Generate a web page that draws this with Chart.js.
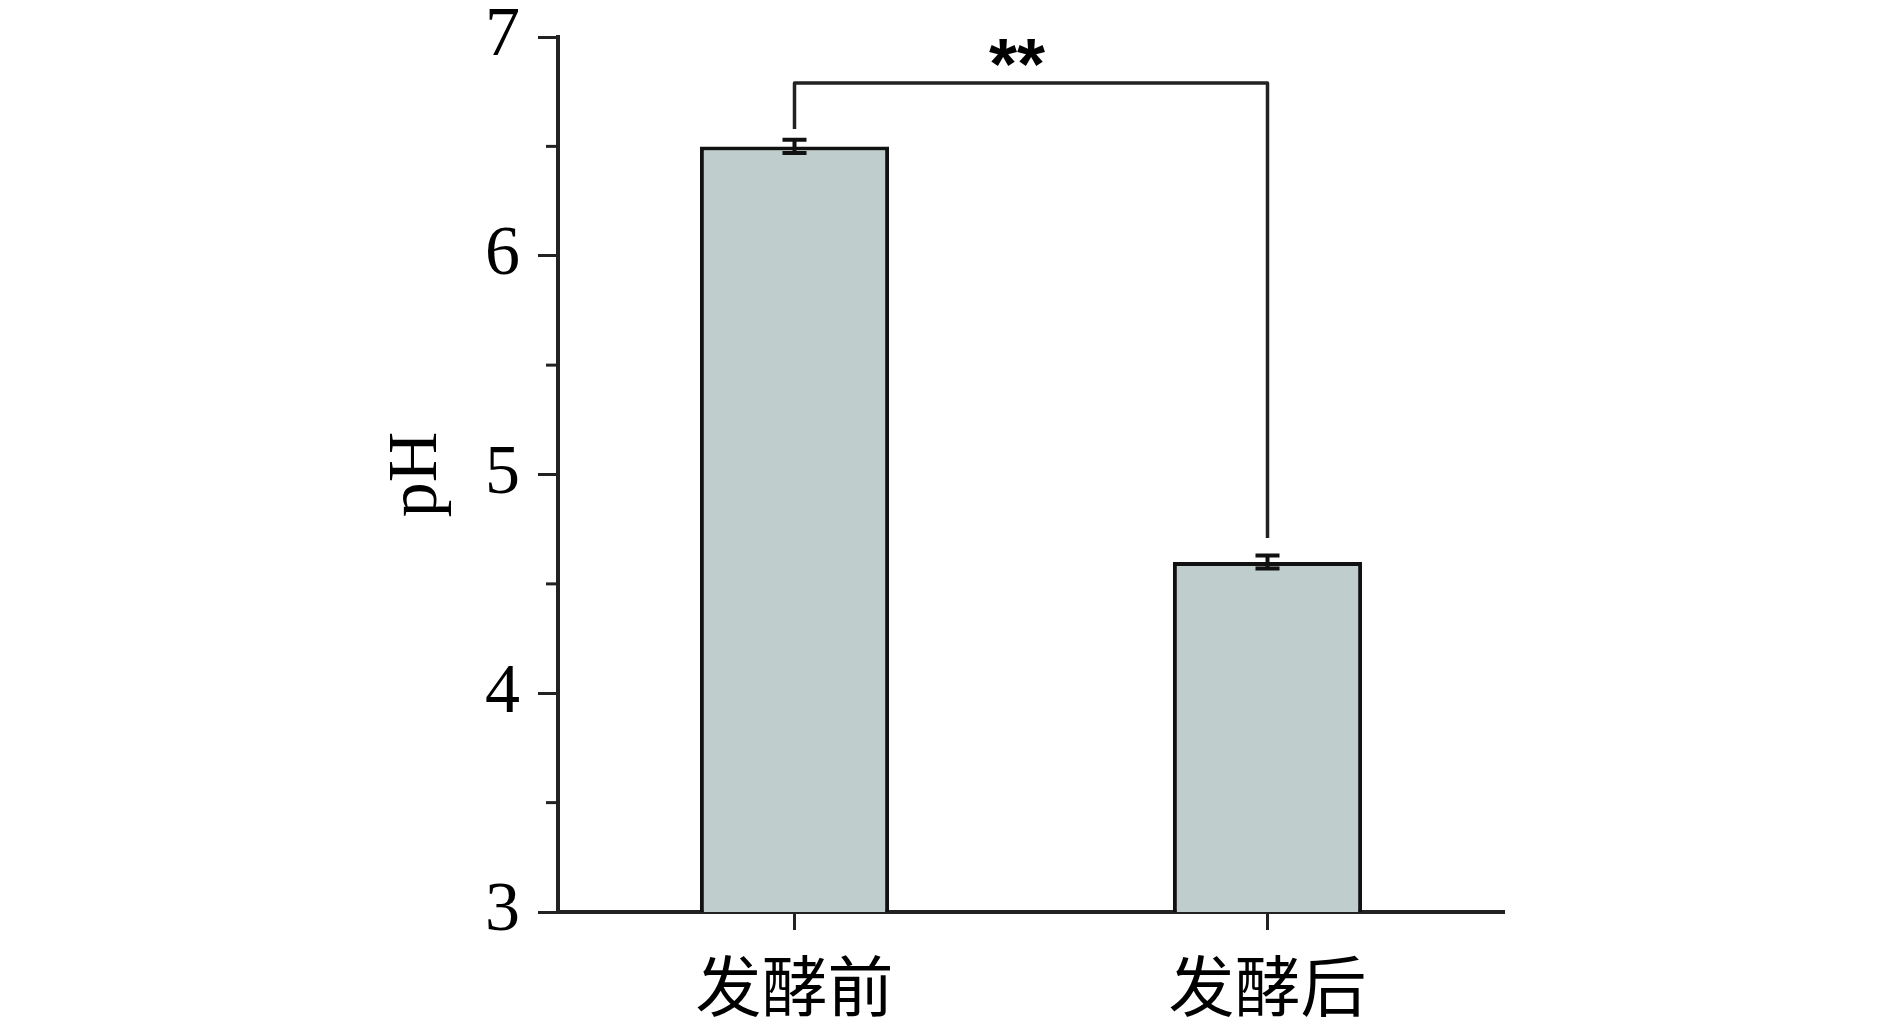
<!DOCTYPE html>
<html>
<head>
<meta charset="utf-8">
<script src="https://cdn.jsdelivr.net/npm/chart.js@4.4.1/dist/chart.umd.min.js"></script>
<style>
  html, body { margin: 0; padding: 0; background: #fff; }
  #wrap { width: 1890px; height: 1033px; position: relative; }
</style>
</head>
<body>
<div id="wrap"><canvas id="phChart"></canvas></div>
<script>
// data
const categories = ['发酵前', '发酵后'];
const phValues = [6.50, 4.60];
const phErrors = [0.03, 0.03];
const yTicks = [3, 4, 5, 6, 7];
const sigLabel = '**';

// error bars drawn through the y scale
const errorBars = {
    id: 'errorBars',
    afterDatasetsDraw(chart) {
        const { ctx, scales: { x, y } } = chart;
        ctx.save();
        ctx.strokeStyle = '#111';
        ctx.lineWidth = 4;
        phValues.forEach((v, i) => {
            const px = x.getPixelForValue(i);
            const top = y.getPixelForValue(v + phErrors[i]);
            const bot = y.getPixelForValue(v - phErrors[i]);
            ctx.beginPath();
            ctx.moveTo(px, top); ctx.lineTo(px, bot);
            ctx.moveTo(px - 12, top); ctx.lineTo(px + 12, top);
            ctx.moveTo(px - 12, bot); ctx.lineTo(px + 12, bot);
            ctx.stroke();
        });
        ctx.restore();
    }
};

// significance bracket between the two bars
const sigBracket = {
    id: 'sigBracket',
    afterDatasetsDraw(chart) {
        const { ctx, scales: { x, y } } = chart;
        const x1 = x.getPixelForValue(0);
        const x2 = x.getPixelForValue(1);
        const yTop = y.getPixelForValue(6.79);
        const yL = y.getPixelForValue(6.58);
        const yR = y.getPixelForValue(4.71);
        ctx.save();
        ctx.strokeStyle = '#222';
        ctx.lineWidth = 3.5;
        ctx.lineJoin = 'round';
        ctx.beginPath();
        ctx.moveTo(x1, yL);
        ctx.lineTo(x1, yTop);
        ctx.lineTo(x2, yTop);
        ctx.lineTo(x2, yR);
        ctx.stroke();
        ctx.fillStyle = '#000';
        ctx.font = 'bold 72px "Liberation Sans"';
        ctx.textAlign = 'center';
        ctx.textBaseline = 'middle';
        ctx.fillText(sigLabel, (x1 + x2) / 2 - 14, yTop - 14);
        ctx.restore();
    }
};

// short minor ticks on the y axis at the half values
const minorTicks = {
    id: 'minorTicks',
    afterDraw(chart) {
        const { ctx, scales: { y } } = chart;
        ctx.save();
        ctx.strokeStyle = '#222';
        ctx.lineWidth = 3;
        for (let i = 0; i < yTicks.length - 1; i++) {
            const py = y.getPixelForValue(yTicks[i] + 0.5);
            ctx.beginPath();
            ctx.moveTo(y.right - 12, py);
            ctx.lineTo(y.right, py);
            ctx.stroke();
        }
        ctx.restore();
    }
};

const ctx = document.getElementById('phChart').getContext('2d');
const phChart = new Chart(ctx, {
    type: 'bar',
    data: {
        labels: categories,
        datasets: [{
            label: 'pH',
            data: phValues,
            backgroundColor: '#bfcdcd',
            borderColor: '#111',
            borderWidth: 4,
            categoryPercentage: 1,
            barPercentage: 0.4
        }]
    },
    options: {
        responsive: true,
        maintainAspectRatio: false,
        animation: false,
        layout: { padding: { left: 0, right: 386, top: 37, bottom: 0 } },
        plugins: {
            legend: { display: false },
            tooltip: { enabled: false }
        },
        scales: {
            x: {
                grid: {
                    display: true,
                    offset: false,
                    drawOnChartArea: false,
                    tickLength: 18,
                    tickWidth: 3,
                    tickColor: '#222'
                },
                border: { color: '#222', width: 4 },
                ticks: {
                    color: '#000',
                    padding: 16,
                    font: { family: '"Noto Sans CJK SC"', size: 66 }
                },
                afterFit: (scale) => {
                    scale.height = 121;
                    scale.paddingLeft = 0;
                    scale.paddingRight = 0;
                }
            },
            y: {
                min: 3,
                max: 7,
                afterBuildTicks: (scale) => { scale.ticks = yTicks.map(v => ({ value: v })); },
                grid: {
                    display: true,
                    drawOnChartArea: false,
                    tickLength: 20,
                    tickWidth: 3,
                    tickColor: '#222'
                },
                border: { color: '#222', width: 4 },
                ticks: {
                    color: '#000',
                    padding: 18,
                    font: { family: '"Liberation Serif"', size: 70 }
                },
                title: {
                    display: true,
                    text: 'pH',
                    color: '#000',
                    font: { family: '"Liberation Serif"', size: 70 },
                    padding: { top: 376, bottom: 0 }
                },
                afterFit: (scale) => {
                    scale.width = 558;
                    scale.paddingTop = 0;
                    scale.paddingBottom = 0;
                }
            }
        }
    },
    plugins: [errorBars, sigBracket, minorTicks]
});
</script>
</body>
</html>
